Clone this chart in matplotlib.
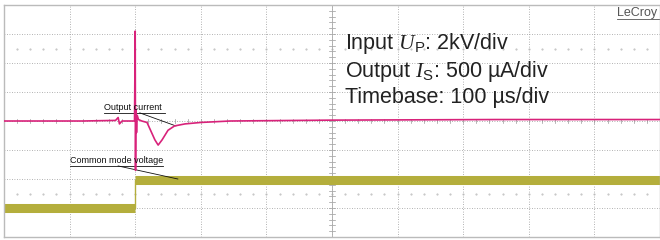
import numpy as np
import matplotlib.pyplot as plt

plt.rcParams['font.family'] = ['Liberation Sans', 'DejaVu Sans']
plt.rcParams['mathtext.fontset'] = 'custom'
plt.rcParams['mathtext.it'] = 'Liberation Serif:italic'
plt.rcParams['mathtext.rm'] = 'Liberation Sans'

# time in divisions (100 us/div), values in divisions
current_t = [0.0, 1.2, 1.7, 1.74, 1.76, 1.8, 1.99, 2.0, 2.005, 2.01, 2.02, 2.03, 2.05, 2.1,
             2.18, 2.23, 2.3, 2.35, 2.41, 2.5, 2.6, 2.76, 3.0, 3.45, 5.0, 7.5, 10.0]
current_v = [0.0, 0.0, 0.02, 0.12, -0.1, 0.0, 0.0, 3.1, -1.7, 0.4, -0.4, 0.2, 0.05, 0.0,
             -0.05, -0.3, -0.65, -0.83, -0.65, -0.32, -0.17, -0.1, -0.05, 0.0, 0.03, 0.05, 0.05]
voltage_t = [0.0, 2.0, 2.0, 10.0]
voltage_v = [-3.0, -3.0, -2.03, -2.03]

pink = '#d8227a'
olive = '#b4ae3c'

fig = plt.figure(figsize=(6.6, 2.4), dpi=100)
ax = fig.add_axes([4 / 660, 3 / 240, 656 / 660, 232 / 240])
ax.set_xlim(0, 10)
ax.set_ylim(-4, 4)
ax.set_xticks([])
ax.set_yticks([])
for s in ax.spines.values():
    s.set_color('#bbbbbb')
    s.set_linewidth(1.0)

# graticule
for x in range(1, 10):
    ax.axvline(x, color='#999999', lw=0.6, ls=(0, (1, 2)), zorder=0)
for y in range(-3, 4):
    ax.axhline(y, color='#999999', lw=0.6, ls=(0, (1, 2)), zorder=0)
for y in (2.5, -2.5):
    ax.plot(np.arange(0.2, 10, 0.2), np.full(49, y), ls='none', marker='.',
            ms=1.0, color='#bbbbbb', zorder=0)
# centre tick marks
for x in np.arange(0.2, 10, 0.2):
    ax.plot([x, x], [-0.07, 0.07], color='#999999', lw=0.5, zorder=0)
for y in np.arange(-3.8, 4, 0.2):
    ax.plot([4.95, 5.05], [y, y], color='#999999', lw=0.5, zorder=0)
ax.axvline(5, color='#aaaaaa', lw=0.6, zorder=0)

# common mode voltage: thin step plus noisy (thick) levels
ax.plot(voltage_t, voltage_v, color=olive, lw=1.0, zorder=2)
for i in range(len(voltage_t) - 1):
    if voltage_v[i] == voltage_v[i + 1]:
        ax.plot(voltage_t[i:i + 2], voltage_v[i:i + 2], color=olive, lw=6.5,
                solid_capstyle='butt', zorder=2)
ax.plot(current_t, current_v, color=pink, lw=1.2, zorder=3)

txt = dict(fontsize=15.5, color='#222222')
ax.text(5.2, 2.48, r'Input $U_{\mathrm{P}}$: 2kV/div', **txt)
ax.text(5.2, 1.52, r'Output $I_{\mathrm{S}}$: 500 µA/div', **txt)
ax.text(5.2, 0.62, 'Timebase: 100 µs/div', **txt)

ax.text(9.34, 3.62, 'LeCroy', fontsize=9, color='#555555', ha='left')
ax.plot([9.34, 10.0], [3.52, 3.52], color='#555555', lw=0.6)

ax.text(1.52, 0.38, 'Output current', fontsize=6.5, color='#111111')
ax.plot([1.52, 2.45], [0.28, 0.28], color='#111111', lw=0.6)
ax.plot([2.07, 2.62], [0.28, -0.17], color='#111111', lw=0.6)

ax.text(1.0, -1.45, 'Common mode voltage', fontsize=6.5, color='#111111')
ax.plot([1.0, 2.42], [-1.55, -1.55], color='#111111', lw=0.6)
ax.plot([1.74, 2.65], [-1.55, -2.0], color='#111111', lw=0.6)

fig.savefig('out.png', dpi=100)
